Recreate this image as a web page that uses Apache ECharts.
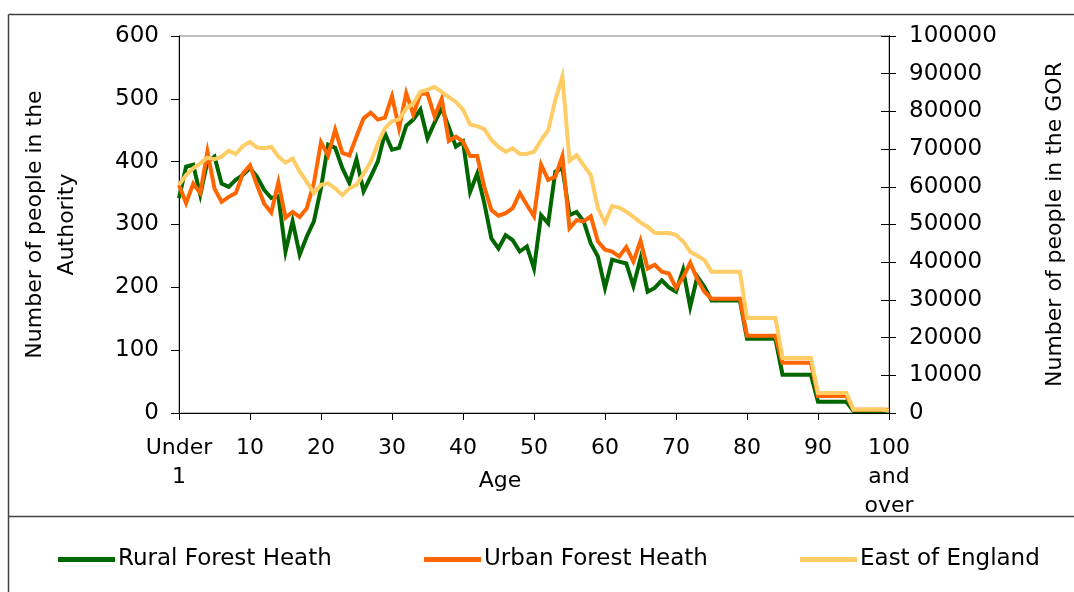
<!DOCTYPE html>
<html>
<head>
<meta charset="utf-8">
<script src="https://cdn.jsdelivr.net/npm/echarts@6/dist/echarts.min.js"></script>
<style>
html,body{margin:0;padding:0;background:#fff;}
#chart{width:1074px;height:592px;}
</style>
</head>
<body>
<div id="chart"></div>
<script>
var ages = ["Under\n1","1","2","3","4","5","6","7","8","9","10","11","12","13","14","15","16","17","18","19",
"20","21","22","23","24","25","26","27","28","29","30","31","32","33","34","35","36","37","38","39",
"40","41","42","43","44","45","46","47","48","49","50","51","52","53","54","55","56","57","58","59",
"60","61","62","63","64","65","66","67","68","69","70","71","72","73","74","75","76","77","78","79",
"80","81","82","83","84","85","86","87","88","89","90","91","92","93","94","95","96","97","98","99","100\nand\nover"];

var ruralForestHeath = [342,392,395,347,400,408,365,360,371,379,
390,376,355,342,345,257,305,252,281,305,
358,427,422,390,366,404,353,376,400,445,
419,422,457,467,483,437,462,485,455,424,
432,352,381,334,278,262,283,275,257,265,
230,315,302,384,390,315,320,305,270,249,
199,244,241,238,202,246,193,199,211,200,
193,228,169,217,201,179,179,179,179,179,
118,118,118,118,118,61,61,61,61,61,
18,18,18,18,18,3,3,3,3,3,3];

var urbanForestHeath = [363,334,365,350,416,357,336,344,350,381,
394,362,333,319,367,311,320,312,326,366,
431,410,451,414,410,440,469,478,467,470,
504,453,509,475,508,508,472,500,433,440,
432,409,409,360,323,314,318,326,350,331,
313,395,371,376,409,294,307,305,313,273,
260,257,249,264,241,274,230,236,225,222,
199,216,239,213,193,182,182,182,182,182,
123,123,123,123,123,80,80,80,80,80,
27,27,27,27,27,5,5,5,5,5,5];

var eastOfEngland = [60500,63100,64900,66200,67700,67300,68000,69600,68700,70800,
71900,70400,70200,70600,68000,66400,67500,64000,61300,58300,
60500,60900,59600,57800,59600,60500,63500,66600,71500,75500,
77400,77900,80800,82100,85200,85800,86500,85200,83800,82500,
80500,76500,76100,75300,72400,70600,69300,70200,68700,68700,
69300,72400,75000,83000,89300,66900,68400,65700,63100,54300,
50500,54900,54500,53400,52000,50500,49400,47800,47700,47800,
47200,45500,42800,41700,40600,37500,37500,37500,37500,37500,
25200,25200,25200,25200,25200,14600,14600,14600,14600,14600,
5300,5300,5300,5300,5300,900,900,900,900,900,600];

var seriesNames = ["Rural Forest Heath","Urban Forest Heath","East of England"];
var seriesColors = ["#006600","#FF6600","#FFCC66"];
var leftTitle = "Number of people in the\nAuthority";
var rightTitle = "Number of people in the GOR";
var xTitle = "Age";

var FONT = "DejaVu Sans";
var chart = echarts.init(document.getElementById('chart'), null, {renderer:'canvas'});
function every10(i){ return i % 10 === 0; }
var legendLefts = [53, 419, 795];
var legends = seriesNames.map(function(n, i){
  return {left:legendLefts[i], top:543, itemWidth:57, itemHeight:5, icon:'rect', itemGap:0,
    textStyle:{fontFamily:FONT,fontSize:23,color:'#000',padding:[0,0,0,-2]}, data:[n]};
});
var option = {
  animation:false,
  backgroundColor:'#ffffff',
  textStyle:{fontFamily:FONT},
  grid:{left:179,right:183,top:36,bottom:179,show:true,borderColor:'#808080',borderWidth:1,backgroundColor:'transparent'},
  legend:legends,
  xAxis:{
    type:'category', data:ages, boundaryGap:false,
    axisLine:{lineStyle:{color:'#000',width:1}},
    axisTick:{show:true, interval:every10, length:7, lineStyle:{color:'#000'}},
    axisLabel:{interval:every10, color:'#000', fontFamily:FONT, fontSize:22, lineHeight:29, margin:21, align:'center'},
    splitLine:{show:false}
  },
  yAxis:[{
    type:'value', min:0, max:600, interval:100, position:'left',
    name:leftTitle, nameLocation:'middle', nameRotate:90, nameGap:96,
    nameTextStyle:{fontFamily:FONT,fontSize:22,color:'#000',lineHeight:32,align:'center'},
    axisLine:{show:true,lineStyle:{color:'#000',width:1}},
    axisTick:{show:true,length:8,lineStyle:{color:'#000'}},
    axisLabel:{color:'#000',fontFamily:FONT,fontSize:23,margin:20},
    splitLine:{show:false}
  },{
    type:'value', min:0, max:100000, interval:10000, position:'right',
    name:rightTitle, nameLocation:'middle', nameRotate:90, nameGap:155,
    nameTextStyle:{fontFamily:FONT,fontSize:22,color:'#000'},
    axisLine:{show:true,lineStyle:{color:'#000',width:1}},
    axisTick:{show:true,length:7,lineStyle:{color:'#000'}},
    axisLabel:{color:'#000',fontFamily:FONT,fontSize:23,margin:20,formatter:function(v){return String(v);}},
    splitLine:{show:false}
  },{
    type:'value', min:0, max:100000, interval:10000, position:'right',
    axisLine:{show:true,lineStyle:{color:'#000',width:1}},
    axisTick:{show:true,inside:true,length:8,lineStyle:{color:'#000'}},
    axisLabel:{show:false},
    splitLine:{show:false}
  }],
  series:[
    {name:seriesNames[0],type:'line',yAxisIndex:0,data:ruralForestHeath,showSymbol:false,symbol:'none',
     lineStyle:{color:seriesColors[0],width:4,join:'miter'},itemStyle:{color:seriesColors[0]}},
    {name:seriesNames[1],type:'line',yAxisIndex:0,data:urbanForestHeath,showSymbol:false,symbol:'none',
     lineStyle:{color:seriesColors[1],width:4,join:'miter'},itemStyle:{color:seriesColors[1]}},
    {name:seriesNames[2],type:'line',yAxisIndex:1,data:eastOfEngland,showSymbol:false,symbol:'none',
     lineStyle:{color:seriesColors[2],width:4,join:'miter'},itemStyle:{color:seriesColors[2]}}
  ],
  graphic:[
    {type:'line',shape:{x1:8.5,y1:14.5,x2:1074,y2:14.5},style:{stroke:'#404040',lineWidth:1.5},silent:true},
    {type:'line',shape:{x1:8.5,y1:14.5,x2:8.5,y2:592},style:{stroke:'#404040',lineWidth:1.5},silent:true},
    {type:'line',shape:{x1:8.5,y1:516.5,x2:1074,y2:516.5},style:{stroke:'#404040',lineWidth:1.5},silent:true},
    {type:'text',x:500,y:481,style:{text:xTitle,fontFamily:FONT,fontSize:22,fill:'#000',align:'center',verticalAlign:'middle'},silent:true}
  ]
};
chart.setOption(option);
</script>
</body>
</html>
